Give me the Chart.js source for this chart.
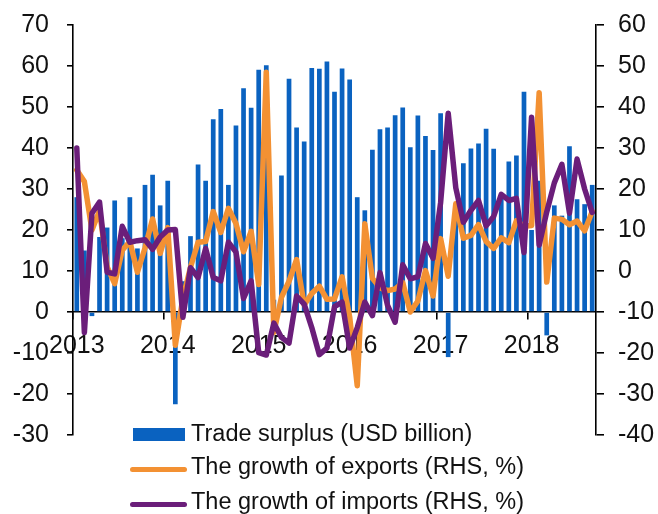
<!DOCTYPE html>
<html><head><meta charset="utf-8">
<script src="https://cdn.jsdelivr.net/npm/chart.js@4.4.1/dist/chart.umd.min.js"></script>
<style>
html,body{margin:0;padding:0;background:#fff;}
#wrap{position:relative;width:658px;height:514px;overflow:hidden;}
canvas{position:absolute;left:0;top:0;}
.lg{position:absolute;left:191px;height:30px;line-height:30px;font-family:"Liberation Sans",Arial,sans-serif;font-size:23.5px;color:#111;white-space:nowrap;}
.sw{position:absolute;}
</style></head>
<body><div id="wrap"><canvas id="c" width="658" height="514"></canvas>
<div class="sw" style="left:133px;top:428px;width:52px;height:13px;background:#0A62C0"></div>
<div class="lg" style="top:418px">Trade surplus (USD billion)</div>
<div class="sw" style="left:130px;top:466.5px;width:57px;height:5.5px;border-radius:3px;background:#F39133"></div>
<div class="lg" style="top:451px">The growth of exports (RHS, %)</div>
<div class="sw" style="left:130px;top:501.5px;width:57px;height:5.5px;border-radius:3px;background:#6B1E7A"></div>
<div class="lg" style="top:486px">The growth of imports (RHS, %)</div>
</div>
<script>
const categories = [
 'Jan 13','Feb 13','Mar 13','Apr 13','May 13','Jun 13','Jul 13','Aug 13','Sep 13','Oct 13','Nov 13','Dec 13',
 'Jan 14','Feb 14','Mar 14','Apr 14','May 14','Jun 14','Jul 14','Aug 14','Sep 14','Oct 14','Nov 14','Dec 14',
 'Jan 15','Feb 15','Mar 15','Apr 15','May 15','Jun 15','Jul 15','Aug 15','Sep 15','Oct 15','Nov 15','Dec 15',
 'Jan 16','Feb 16','Mar 16','Apr 16','May 16','Jun 16','Jul 16','Aug 16','Sep 16','Oct 16','Nov 16','Dec 16',
 'Jan 17','Feb 17','Mar 17','Apr 17','May 17','Jun 17','Jul 17','Aug 17','Sep 17','Oct 17','Nov 17','Dec 17',
 'Jan 18','Feb 18','Mar 18','Apr 18','May 18','Jun 18','Jul 18','Aug 18','Sep 18'];
const yearLabels = ['2013','2014','2015','2016','2017','2018'];
const tradeSurplus = [
 28, 15, -1, 18.3, 20.6, 27.2, 18, 28, 15.5, 31, 33.5, 26,
 32, -22.5, 7.5, 18.5, 36, 32, 47, 49.5, 31, 45.5, 54.6, 49.8,
 59.1, 60.2, 3, 33.3, 56.9, 45, 41.6, 59.5, 59.3, 61.1, 53.7, 59.4,
 56.7, 28, 24.8, 39.6, 44.6, 45, 48, 49.9, 40.2, 47.9, 42.9, 39.5,
 48.5, -11, 23, 36.3, 39.9, 41.1, 44.7, 39.8, 28.5, 36.7, 38.2, 53.7,
 20, 32, -5.7, 26, 23.5, 40.4, 27.5, 26.3, 31];
const exportGrowth = [
 24.6, 21.8, 10, 14.7, 1, -3.1, 5.1, 7.2, -0.3, 5.6, 12.7, 4.3,
 10.6, -18.1, -6.6, 0.9, 7, 7.2, 14.5, 9.4, 15.3, 11.6, 4.7, 9.7,
 -3.3, 48.5, -15, -6.4, -2.5, 2.8, -8.3, -5.5, -3.7, -6.9, -6.8, -1.4,
 -11.2, -28, 11.5, -1.8, -4.1, -4.8, -4.4, -2.8, -10, -7.3, 0.1, -6.1,
 7.9, -1.3, 16.4, 8, 8.7, 11.3, 7.2, 5.5, 8.1, 6.9, 12.3, 10.9,
 11.1, 43.5, -2.7, 12.9, 12.6, 11.3, 12.2, 9.8, 14.5];
const importGrowth = [
 30, -15, 14.1, 16.8, -0.3, -0.7, 10.9, 7, 7.4, 7.6, 5.3, 8.3,
 10, 10.1, -11.3, 0.8, -1.6, 5.5, -1.6, -2.4, 7, 4.6, -6.7, -2.4,
 -19.9, -20.5, -12.7, -16.2, -17.6, -6.1, -8.1, -13.8, -20.4, -18.8, -8.7, -7.6,
 -18.8, -13.8, -7.6, -10.9, -0.4, -8.4, -12.5, 1.5, -1.9, -1.4, 6.7, 3.1,
 16.7, 38.5, 20.3, 11.9, 14.8, 17.2, 11, 13.3, 18.7, 17.2, 17.7, 4.5,
 37.5, 6.3, 14.4, 21.5, 26, 14.1, 27.3, 20, 14.3];

const FONT = {family:'"Liberation Sans", Arial, sans-serif', size:25};
const noVPad = (s, w) => { s.width = w; s.paddingTop = 0; s.paddingBottom = 0; };
new Chart(document.getElementById('c'), {
  data: {
    labels: categories,
    datasets: [
      {type:'line', label:'The growth of imports (RHS, %)', data: importGrowth, yAxisID:'y1',
       borderColor:'#6B1E7A', borderWidth:5.5, pointRadius:0, tension:0, order:1, borderJoinStyle:'round', borderCapStyle:'round'},
      {type:'line', label:'The growth of exports (RHS, %)', data: exportGrowth, yAxisID:'y1',
       borderColor:'#F39133', borderWidth:5.5, pointRadius:0, tension:0, order:2, borderJoinStyle:'round', borderCapStyle:'round'},
      {type:'bar', label:'Trade surplus (USD billion)', data: tradeSurplus, yAxisID:'y',
       backgroundColor:'#0A62C0', categoryPercentage:1, barPercentage:0.62, order:3}
    ]
  },
  options: {
    responsive:false, animation:false, devicePixelRatio:1,
    layout:{padding:{top:25,bottom:79,left:0,right:0}},
    plugins:{legend:{display:false}, tooltip:{enabled:false}},
    scales:{
      x:{type:'category', position:{y:0},
         grid:{display:true, drawOnChartArea:false, offset:true, tickLength:7, lineWidth:1.6,
               color:(ctx)=> (ctx.index % 12 === 0 ? '#000' : 'rgba(0,0,0,0)')},
         border:{display:true, color:'#000', width:1.6},
         ticks:{autoSkip:false, maxRotation:0, minRotation:0, padding:12, color:'#111', font:FONT,
                callback:(v,i)=> (i % 12 === 0 ? yearLabels[i/12] : '')}},
      y:{position:'left', min:-30, max:70,
         ticks:{stepSize:10, padding:18, color:'#111', font:FONT},
         grid:{drawOnChartArea:false, tickLength:6, color:'#000', lineWidth:1.6},
         border:{display:true, color:'#000', width:1.6},
         afterFit:(s)=>noVPad(s, 73)},
      y1:{position:'right', min:-40, max:60,
         ticks:{stepSize:10, padding:14, color:'#111', font:FONT},
         grid:{drawOnChartArea:false, tickLength:8, color:'#000', lineWidth:1.6},
         border:{display:true, color:'#000', width:1.6},
         afterFit:(s)=>noVPad(s, 62)}
    }
  }
});
</script></body></html>
